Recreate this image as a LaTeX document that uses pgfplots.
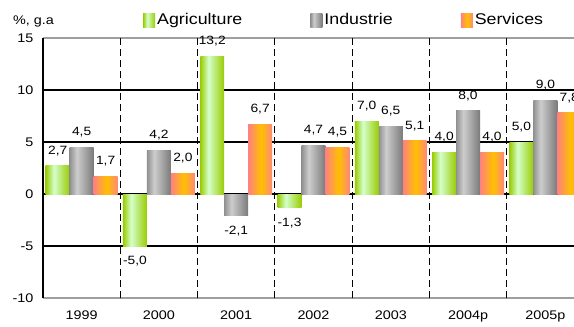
\documentclass[border=0pt]{standalone}
\usepackage{fontspec}
\setmainfont{Liberation Sans}[FakeStretch=1.15]
\usepackage{pgfplots}
\pgfplotsset{compat=1.18}

\definecolor{grA}{RGB}{153,204,0}
\definecolor{grB}{RGB}{212,255,204}
\definecolor{gyA}{RGB}{145,145,145}
\definecolor{gyB}{RGB}{205,205,205}
\definecolor{gyC}{RGB}{122,122,122}
\definecolor{orA}{RGB}{255,128,128}
\definecolor{orB}{RGB}{255,192,0}
\definecolor{orC}{RGB}{255,136,120}

% horizontal bar gradients (25bp..75bp spans the bar width)
\pgfdeclarehorizontalshading{agri}{100bp}{color(0bp)=(grA); color(25bp)=(grA); color(42bp)=(grB); color(75bp)=(grA); color(100bp)=(grA)}
\pgfdeclarehorizontalshading{indu}{100bp}{color(0bp)=(gyA); color(25bp)=(gyA); color(40bp)=(gyB); color(75bp)=(gyC); color(100bp)=(gyC)}
\pgfdeclarehorizontalshading{serv}{100bp}{color(0bp)=(orA); color(25bp)=(orA); color(52bp)=(orB); color(75bp)=(orC); color(100bp)=(orC)}

% one plot per bar, so every bar gets its own gradient
\pgfplotsset{
  barbase/.style={ybar, bar width=0.31, bar shift=0pt, draw=none, shade},
  agribar/.style={barbase, shading=agri,
    legend image code/.code={\path[shade, shading=agri] (0pt,-7pt) rectangle (12pt,7pt);}},
  indubar/.style={barbase, shading=indu,
    legend image code/.code={\path[shade, shading=indu] (0pt,-7pt) rectangle (12pt,7pt);}},
  servbar/.style={barbase, shading=serv,
    legend image code/.code={\path[shade, shading=serv] (0pt,-7pt) rectangle (12pt,7pt);}},
}

\begin{document}
\begin{tikzpicture}
\begin{axis}[
  name=ax,
  scale only axis,
  width=541pt, height=260pt,
  xmin=-0.5, xmax=6.5,
  ymin=-10, ymax=15,
  ytick={-10,-5,0,5,10,15},
  xtick={0,...,6},
  xticklabels={1999,2000,2001,2002,2003,2004p,2005p},
  major tick length=0pt,
  /pgf/number format/assume math mode=true,
  ticklabel style={font=\fontsize{12.5}{14}\selectfont},
  yticklabel style={xshift=-6pt},
  xticklabel style={yshift=-9pt},
  separate axis lines,
  axis line style={draw=gray!75, line width=1.2pt},
  y axis line style={draw=black},
  extra y ticks={-5,0,5,10},
  extra y tick labels={},
  extra y tick style={grid=major, major grid style={draw=black, line width=1.1pt}},
  extra x ticks={0.5,1.5,2.5,3.5,4.5,5.5},
  extra x tick labels={},
  extra x tick style={grid=major, major grid style={draw=black, line width=1.1pt, dash pattern=on 7pt off 4pt}},
  nodes near coords={\pgfmathprintnumber[fixed,fixed zerofill,precision=1,use comma]{\pgfplotspointmeta}},
  nodes near coords align={vertical},
  every node near coord/.append style={text=black, font=\fontsize{12}{14}\selectfont, inner xsep=0pt, inner ysep=10pt},
  legend columns=3,
  legend style={at={(axis description cs:0,1)}, anchor=west, xshift=100pt, yshift=18pt,
    draw=none, fill=none, inner sep=0pt,
    font=\fontsize{15.5}{18}\selectfont,
    /tikz/every even column/.append style={column sep=66pt}},
]
% 1999
\addplot[agribar] coordinates {(-0.31,2.7)};
\addlegendentry{Agriculture}
\addplot[indubar] coordinates {(0,4.5)};
\addlegendentry{Industrie}
\addplot[servbar] coordinates {(0.31,1.7)};
\addlegendentry{Services}
% 2000
\addplot[agribar, forget plot] coordinates {(0.69,-5.0)};
\addplot[indubar, forget plot] coordinates {(1,4.2)};
\addplot[servbar, forget plot] coordinates {(1.31,2.0)};
% 2001
\addplot[agribar, forget plot] coordinates {(1.69,13.2)};
\addplot[indubar, forget plot] coordinates {(2,-2.1)};
\addplot[servbar, forget plot] coordinates {(2.31,6.7)};
% 2002
\addplot[agribar, forget plot] coordinates {(2.69,-1.3)};
\addplot[indubar, forget plot] coordinates {(3,4.7)};
\addplot[servbar, forget plot] coordinates {(3.31,4.5)};
% 2003
\addplot[agribar, forget plot] coordinates {(3.69,7.0)};
\addplot[indubar, forget plot] coordinates {(4,6.5)};
\addplot[servbar, forget plot] coordinates {(4.31,5.1)};
% 2004p
\addplot[agribar, forget plot] coordinates {(4.69,4.0)};
\addplot[indubar, forget plot] coordinates {(5,8.0)};
\addplot[servbar, forget plot] coordinates {(5.31,4.0)};
% 2005p
\addplot[agribar, forget plot] coordinates {(5.69,5.0)};
\addplot[indubar, forget plot] coordinates {(6,9.0)};
\addplot[servbar, forget plot] coordinates {(6.31,7.8)};
\end{axis}
\node[anchor=base west, inner sep=0pt, font=\fontsize{12.5}{14}\selectfont]
  at ([xshift=-30pt, yshift=13pt]ax.north west) {\%, g.a};
\pgfresetboundingbox
\useasboundingbox ([xshift=-43pt, yshift=-29pt]ax.south west) rectangle ([xshift=531pt, yshift=38pt]ax.north west);
\end{tikzpicture}
\end{document}
